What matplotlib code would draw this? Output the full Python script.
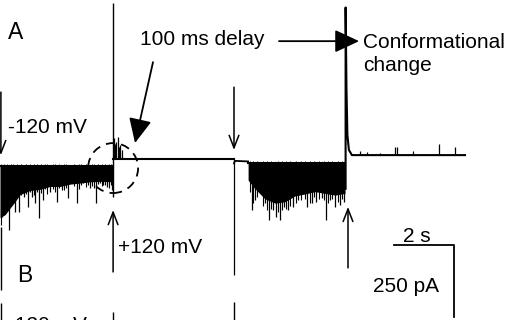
import matplotlib.pyplot as plt
from matplotlib.patches import Ellipse

plt.rcParams['font.family'] = ['Liberation Sans', 'DejaVu Sans']

# time in s, current in pA (0 pA = level after the +120 mV step)
# -120 mV stretch before the step: lower edge of the dense noise band
band1_t = [0.0, 0.17, 0.33, 0.5, 0.67, 1.0, 1.33, 1.67, 2.0, 2.33, 2.67, 3.0, 3.33, 3.75]
band1_lo = [-200, -190, -168, -145, -120, -106, -102, -92, -92, -84, -80, -76, -74, -76]
band1_top = -21
spike1_t = [0.07, 0.17, 0.30, 0.50, 0.63, 0.80, 0.93, 1.07, 1.17, 1.30, 1.43, 1.67,
            1.90, 2.07, 2.27, 2.40, 2.57, 2.77, 3.00, 3.20, 3.33, 3.43, 3.57, 3.73]
spike1_i = [-198, -184, -243, -181, -181, -128, -163, -128, -149, -201, -139, -111,
            -146, -104, -132, -80, -149, -80, -97, -149, -80, -87, -94, -104]
minor1_t = [0.03, 0.12, 0.23, 0.37, 0.43, 0.57, 0.70, 0.87, 1.00, 1.13, 1.23, 1.37, 1.50,
            1.57, 1.77, 1.83, 1.97, 2.13, 2.20, 2.47, 2.63, 2.70, 2.87, 2.93, 3.07,
            3.13, 3.27, 3.40, 3.50, 3.63, 3.70]
minor1_i = [-225, -170, -150, -160, -140, -130, -120, -118, -112, -120, -110, -115, -100,
            -118, -100, -112, -96, -104, -98, -92, -100, -88, -94, -86, -90,
            -98, -84, -92, -88, -96, -86]

# step to +120 mV and the short burst after it
step1_t = 3.77
step1_i = [545, -128]
burst_t = [3.80, 3.84, 3.87, 3.93, 3.97, 4.00, 4.07]
burst_i = [76, 55, 62, 80, 45, 52, 35]
flat1_t = [3.77, 7.79]
flat1_i = [3, 3]

# back to -120 mV: transient, then noise again
dip_t = 7.80
dip_i = [3, -399]
flat2_t = [7.80, 7.83, 8.27]
flat2_i = [-12, -3, -5]
band2_t = [8.27, 8.5, 8.83, 9.17, 9.5, 9.83, 10.17, 10.5, 10.83, 11.17, 11.5]
band2_lo = [-70, -100, -135, -150, -145, -125, -118, -110, -116, -122, -116]
band2_top = -10
spike2_t = [8.40, 8.50, 8.67, 8.83, 8.97, 9.10, 9.20, 9.33, 9.47, 9.60, 9.77,
            9.93, 10.10, 10.23, 10.40, 10.53, 10.73, 10.87, 11.00, 11.17, 11.33, 11.47]
spike2_i = [-174, -139, -104, -149, -208, -174, -198, -208, -163, -174, -163,
            -139, -104, -163, -149, -146, -132, -208, -139, -163, -156, -146]
minor2_t = [8.33, 8.45, 8.58, 8.75, 8.90, 9.03, 9.27, 9.40, 9.53, 9.68, 9.85,
            10.02, 10.17, 10.32, 10.47, 10.62, 10.80, 10.93, 11.08, 11.25, 11.40]
minor2_i = [-110, -150, -130, -160, -175, -170, -180, -175, -170, -160, -150,
            -140, -135, -150, -130, -135, -140, -150, -135, -145, -135]

# second step (conformational change) and the quiet trace after it
step2_t = [11.52, 11.52, 11.55, 11.58, 11.63, 11.73, 15.5]
step2_i = [-100, 530, 243, 87, 35, 17, 17]
spike3_t = [12.0, 12.23, 12.67, 13.17, 13.23, 13.77, 14.63, 15.17]
spike3_i = [31, 28, 24, 45, 45, 31, 56, 45]

# panel B, only its top edge is in view
b_t = [0.03, 3.77, 7.80]
b_top = [-496, -528, -493]

# scale bar: 2 s, 250 pA
bar_t0, bar_i0 = 13.13, -295

fig = plt.figure(figsize=(5.12, 3.2), dpi=100)
ax = fig.add_axes([0, 0, 1, 1])
ax.set_xlim(0, 512 / 30)
ax.set_ylim(-556, 556)
ax.axis('off')

k = 'black'
ax.fill_between(band1_t, band1_lo, band1_top, color=k, lw=0)
ax.plot([band1_t[0], band1_t[-1]], [band1_top, band1_top], color=k, lw=1.5)
ax.vlines(spike1_t, band1_top, spike1_i, color=k, lw=0.9)
ax.vlines(minor1_t, band1_top, minor1_i, color=k, lw=0.8)
ax.vlines(minor1_t, band1_top, band1_top + 8, color=k, lw=0.6)
ax.vlines(0.03, -233, -451, color=k, lw=1.0)

ax.vlines(step1_t, step1_i[0], step1_i[1], color=k, lw=1.0)
ax.vlines(burst_t, 3, burst_i, color=k, lw=0.9)
ax.plot(flat1_t, flat1_i, color=k, lw=1.5)

ax.vlines(dip_t, dip_i[0], dip_i[1], color=k, lw=0.9)
ax.plot(flat2_t, flat2_i, color=k, lw=1.3)
ax.fill_between(band2_t, band2_lo, band2_top, color=k, lw=0)
ax.plot([band2_t[0], band2_t[-1]], [band2_top, band2_top], color=k, lw=1.5)
ax.vlines(spike2_t, band2_top, spike2_i, color=k, lw=0.9)
ax.vlines(minor2_t, band2_top, minor2_i, color=k, lw=0.8)
ax.vlines(minor2_t, band2_top, band2_top + 7, color=k, lw=0.6)

ax.plot(step2_t, step2_i, color=k, lw=1.5)
ax.vlines(spike3_t, 17, spike3_i, color=k, lw=0.9)

ax.vlines(b_t, b_top, -600, color=k, lw=1.0)

# dashed circle round the +120 mV step
ax.add_patch(Ellipse((3.77, -28), 50 / 30, 50 * 3.472, fill=False,
                     ec=k, lw=1.3, ls=(0, (5, 3.5))))

# voltage step arrows
thin = dict(arrowstyle='->,head_length=0.9,head_width=0.35', color=k, lw=1.1,
            mutation_scale=10, shrinkA=0, shrinkB=0)
for t, i0, i1 in [(0.03, 236, 17), (7.8, 253, 35), (3.77, -389, -174), (11.6, -375, -163)]:
    ax.annotate('', xy=(t, i1), xytext=(t, i0), arrowprops=thin)

bold = dict(arrowstyle='-|>,head_length=1.5,head_width=0.7', color=k, lw=1.3,
            mutation_scale=10, shrinkA=0, shrinkB=0)
ax.annotate('', xy=(4.5, 59), xytext=(5.1, 340), arrowprops=bold)
ax.annotate('', xy=(11.97, 413), xytext=(9.3, 413), arrowprops=bold)

# scale bar
ax.plot([bar_t0, bar_t0 + 2, bar_t0 + 2], [bar_i0, bar_i0, bar_i0 - 250], color=k, lw=1.3)

fs = 15
ax.text(0.27, 420, 'A', fontsize=16.5, va='baseline')
ax.text(0.57, -424, 'B', fontsize=16.5, va='baseline')
ax.text(0.27, 94, '-120 mV', fontsize=fs, va='baseline')
ax.text(3.93, -323, '+120 mV', fontsize=fs, va='baseline')
ax.text(4.67, 399, '100 ms delay', fontsize=fs, va='baseline')
ax.text(12.1, 388, 'Conformational', fontsize=fs, va='baseline')
ax.text(12.1, 309, 'change', fontsize=fs, va='baseline')
ax.text(13.43, -285, '2 s', fontsize=fs, va='baseline')
ax.text(12.43, -458, '250 pA', fontsize=fs, va='baseline')
# panel B label runs off the bottom edge, as in the original
ax.text(0.27, -542, '-120 mV', fontsize=fs, va='top')

fig.savefig('out.png', dpi=100)
plt.close(fig)
